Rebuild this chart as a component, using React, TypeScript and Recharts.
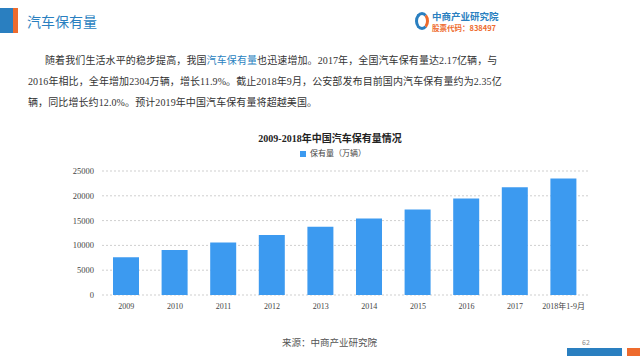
import { BarChart, Bar, XAxis, YAxis, CartesianGrid, Legend } from "recharts";

const years = ["2009", "2010", "2011", "2012", "2013", "2014", "2015", "2016", "2017", "2018年1-9月"];
const stock = [7619, 9086, 10578, 12089, 13741, 15447, 17228, 19440, 21743, 23500];
const yTicks = [0, 5000, 10000, 15000, 20000, 25000];

const data = years.map((year, i) => ({ year, stock: stock[i] }));

const serif = '"Liberation Serif", "Noto Sans CJK SC", serif';
const sans = '"Noto Sans CJK SC", "Noto Sans", sans-serif';
const blue = "#3c9af0";

const lines = [
    "随着我们生活水平的稳步提高，我国",
    "汽车保有量",
    "也迅速增加。2017年，全国汽车保有量达2.17亿辆，与",
];

export default function App() {
    return (
        <div style={{ position: "fixed", left: 0, top: 0, width: 640, height: 360, background: "#fff", overflow: "hidden" }}>
            {/* header */}
            <div style={{ position: "absolute", left: 0, top: 8, width: 13, height: 25, background: "#2a7fc0" }} />
            <div style={{ position: "absolute", left: 13, top: 8, width: 5, height: 25, background: "#ee6b2d" }} />
            <div style={{ position: "absolute", left: 27, top: 11, fontFamily: sans, fontSize: 14, color: "#2a7fc0" }}>
                汽车保有量
            </div>
            <div style={{ position: "absolute", left: 415, top: 12, width: 14, height: 18, borderRadius: "50%", border: "3px solid #2a7fc0", borderRightColor: "#ee6b2d", boxSizing: "border-box" }} />
            <div style={{ position: "absolute", left: 432, top: 9, fontFamily: sans, fontSize: 9.5, fontWeight: 700, color: "#2a7fc0" }}>
                中商产业研究院
            </div>
            <div style={{ position: "absolute", left: 432, top: 22, fontFamily: sans, fontSize: 7.5, fontWeight: 700, color: "#ee6b2d" }}>
                股票代码：838497
            </div>

            {/* paragraph */}
            <div style={{ position: "absolute", left: 28, top: 50, width: 480, fontFamily: serif, fontSize: 10, lineHeight: "21px", color: "#333", letterSpacing: 0.1 }}>
                <div style={{ paddingLeft: 17 }}>
                    {lines[0]}
                    <span style={{ color: "#2a7fc0" }}>{lines[1]}</span>
                    {lines[2]}
                </div>
                <div>2016年相比，全年增加2304万辆，增长11.9%。截止2018年9月，公安部发布目前国内汽车保有量约为2.35亿</div>
                <div>辆，同比增长约12.0%。预计2019年中国汽车保有量将超越美国。</div>
            </div>

            {/* chart title */}
            <div style={{ position: "absolute", left: 0, width: 660, top: 130, textAlign: "center", fontFamily: serif, fontSize: 10, fontWeight: 700, color: "#222" }}>
                2009-2018年中国汽车保有量情况
            </div>

            <div style={{ position: "absolute", left: 0, top: 120 }}>
                <BarChart width={640} height={200} data={data} margin={{ top: 40, right: 52, bottom: 0, left: 62 }}>
                    <CartesianGrid vertical={false} stroke="#cfcfcf" strokeDasharray="2 2" />
                    <XAxis
                        dataKey="year"
                        axisLine={false}
                        tickLine={false}
                        height={25}
                        interval={0}
                        tick={{ fontSize: 8, fontFamily: serif, fill: "#444" }}
                    />
                    <YAxis
                        ticks={yTicks}
                        domain={[0, 25000]}
                        axisLine={false}
                        tickLine={false}
                        width={40}
                        tick={{ fontSize: 8.5, fontFamily: serif, fill: "#444" }}
                    />
                    <Legend
                        verticalAlign="top"
                        iconType="square"
                        iconSize={6}
                        wrapperStyle={{ top: 27, left: 298, width: 80, fontSize: 8, fontFamily: serif, color: "#444" }}
                        formatter={() => <span style={{ color: "#444" }}>保有量（万辆）</span>}
                    />
                    <Bar dataKey="stock" name="保有量（万辆）" fill={blue} barSize={26} isAnimationActive={false} />
                </BarChart>
            </div>

            {/* footer */}
            <div style={{ position: "absolute", left: 282, top: 335, fontFamily: serif, fontSize: 9.5, color: "#555" }}>
                来源：中商产业研究院
            </div>
            <div style={{ position: "absolute", left: 582, top: 337, fontFamily: sans, fontSize: 7, color: "#888" }}>62</div>
            <div style={{ position: "absolute", left: 567, top: 348, width: 55, height: 8, background: "#2a7fc0" }} />
            <div style={{ position: "absolute", left: 627, top: 348, width: 13, height: 8, background: "#ee6b2d" }} />
        </div>
    );
}
